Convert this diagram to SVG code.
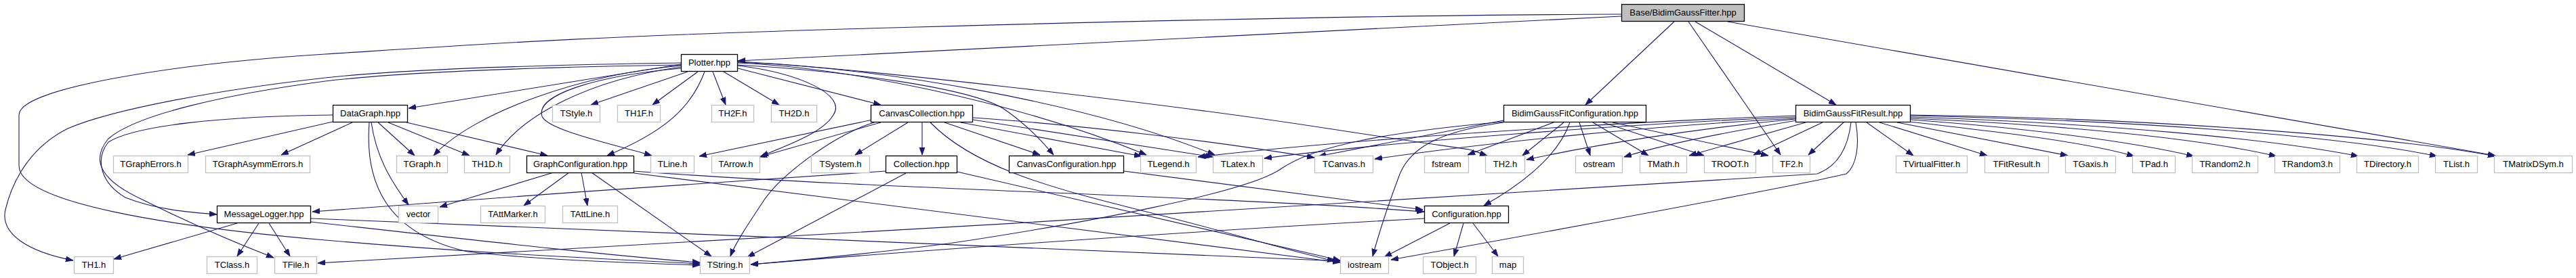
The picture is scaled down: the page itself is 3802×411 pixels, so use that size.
<svg xmlns="http://www.w3.org/2000/svg" width="3802" height="411" viewBox="0 0 3802 411">
<defs>
<style>
.e path{fill:none;stroke:#191970;stroke-width:1.1;marker-end:url(#ah)}
.n rect{fill:#fff;stroke:#000;stroke-width:1.3}
.x rect{fill:#fff;stroke:#bfbfbf;stroke-width:1.3}
.b rect{fill:#bfbfbf;stroke:#000;stroke-width:1.3}
text{font-family:"Liberation Sans",Arial,Helvetica,sans-serif;font-size:13px;text-anchor:middle;fill:#000}
</style>
<marker id="ah" markerUnits="userSpaceOnUse" markerWidth="12" markerHeight="9" refX="11" refY="4" orient="auto"><path d="M0,0 L11,4 L0,8 z" fill="#191970" stroke="#191970" stroke-width="0.8"/></marker>
</defs>
<rect width="3802" height="411" fill="#fff"/>
<g id="connectors" class="e">
<path d="M2393,24 L1089,90"/>
<path d="M2393,21 C2100,22 1700,30 1280,42 S700,66 480,80 S28,130 28,170 L28,245 C28,300 250,335 480,355 S900,383 1033,390"/>
<path d="M2471,32 L2340,155"/>
<path d="M2492,32 L2628,229"/>
<path d="M2502,32 L2710,155"/>
<path d="M2550,32 L3683,230"/>
<path d="M1015,106 L872,155"/>
<path d="M1030,106 L963,155"/>
<path d="M1052,106 L1071,155"/>
<path d="M1068,106 L1150,155"/>
<path d="M1040,106 C1020,160 980,195 896,230"/>
<path d="M1005,101 C880,112 790,140 800,172 C808,192 900,212 962,230"/>
<path d="M1005,99 C870,118 770,170 732,229"/>
<path d="M1005,97 C860,110 700,165 640,230"/>
<path d="M1005,95 L603,160"/>
<path d="M1005,93 C800,96 600,102 480,115 C330,132 170,160 100,190 C50,215 20,260 8,310 C0,345 40,372 108,385"/>
<path d="M1005,96 C750,100 580,108 480,120 C330,140 200,170 160,205 C135,235 145,265 210,295 C280,330 350,360 404,381"/>
<path d="M1089,101 L1300,155"/>
<path d="M1089,96 C1250,105 1430,130 1480,160 C1510,180 1535,205 1555,229"/>
<path d="M1089,93 C1250,100 1500,150 1692,229"/>
<path d="M1089,92 C1300,100 1600,150 1793,229"/>
<path d="M1089,91 C1250,99 1700,150 1960,190 S2150,215 2195,230"/>
<path d="M1089,97 C1180,108 1250,140 1230,170 C1215,195 1170,212 1123,231"/>
<path d="M491,170 C330,172 200,185 160,210 C140,235 148,270 185,292 C230,310 280,314 320,317"/>
<path d="M491,180 L277,229"/>
<path d="M520,181 L415,229"/>
<path d="M558,181 L612,230"/>
<path d="M573,181 L693,230"/>
<path d="M600,181 L808,230"/>
<path d="M548,181 C555,230 575,265 603,303"/>
<path d="M545,181 C538,270 570,345 690,372 C800,385 950,389 1033,392"/>
<path d="M350,330 L168,383"/>
<path d="M382,330 L350,379"/>
<path d="M397,330 L428,379"/>
<path d="M459,328 C700,355 900,378 1033,388"/>
<path d="M459,323 C900,340 1600,370 1978,386"/>
<path d="M817,255 L649,306"/>
<path d="M840,255 L773,304"/>
<path d="M858,255 L867,304"/>
<path d="M873,255 L1050,379"/>
<path d="M935,253 C1300,280 1800,290 2102,313"/>
<path d="M936,256 L1978,388"/>
<path d="M1307,253 C1100,265 700,295 461,313"/>
<path d="M1337,256 L1103,380"/>
<path d="M1413,254 L1978,385"/>
<path d="M1288,177 L1032,231"/>
<path d="M1300,181 L1121,232"/>
<path d="M1340,181 L1262,229"/>
<path d="M1290,181 C1230,200 1150,260 1125,300 C1105,330 1085,360 1078,379"/>
<path d="M1361,181 L1361,229"/>
<path d="M1394,181 L1535,229"/>
<path d="M1418,181 L1685,231"/>
<path d="M1436,177 L1790,232"/>
<path d="M1436,174 C1600,185 1800,210 1940,233"/>
<path d="M1373,181 C1440,250 1560,280 1700,315 C1820,345 1900,370 1970,386"/>
<path d="M1659,253 L2100,310"/>
<path d="M2219,178 L1946,231"/>
<path d="M2219,180 C2050,195 1940,215 1890,250 C1840,285 1600,330 1400,360 C1300,373 1200,383 1108,391"/>
<path d="M2293,181 L2166,229"/>
<path d="M2308,181 L2247,230"/>
<path d="M2317,181 C2300,230 2250,270 2190,304"/>
<path d="M2331,181 L2347,230"/>
<path d="M2351,181 L2433,230"/>
<path d="M2366,181 L2515,230"/>
<path d="M2380,181 L2610,230"/>
<path d="M2219,181 C2120,195 2080,220 2065,260 C2050,300 2035,345 2026,379"/>
<path d="M2140,330 L2043,380"/>
<path d="M2160,330 L2146,379"/>
<path d="M2174,330 L2211,379"/>
<path d="M2102,323 C1700,345 1300,375 1108,391"/>
<path d="M2650,171 C2400,180 2000,205 1768,232"/>
<path d="M2650,173 C2400,183 2050,210 1866,234"/>
<path d="M2650,175 C2450,185 2200,210 2029,235"/>
<path d="M2650,176 C2500,190 2350,215 2253,236"/>
<path d="M2652,178 C2550,195 2450,215 2397,232"/>
<path d="M2665,181 L2493,230"/>
<path d="M2690,181 L2588,229"/>
<path d="M2721,181 L2669,229"/>
<path d="M2755,181 L2824,230"/>
<path d="M2774,181 L2933,230"/>
<path d="M2800,181 L3052,230"/>
<path d="M2818,180 C2950,195 3080,210 3150,231"/>
<path d="M2820,177 C3000,190 3150,210 3238,231"/>
<path d="M2820,175 C3050,185 3250,205 3360,231"/>
<path d="M2820,173 C3100,182 3350,205 3481,231"/>
<path d="M2820,171 C3150,178 3450,200 3597,231"/>
<path d="M2820,170 C3200,175 3550,205 3683,231"/>
<path d="M2739,181 C2745,215 2740,245 2725,257 C2650,275 2300,340 2053,384"/>
<path d="M2732,181 C2728,215 2715,245 2682,257 C2500,272 1000,360 469,389"/>
</g>
<g id="node-base" class="b"><rect x="2393.5" y="6.5" width="181" height="25"/><text x="2484" y="23">Base/BidimGaussFitter.hpp</text></g>
<g id="node-plotter" class="n"><rect x="1005.5" y="80.5" width="83" height="25"/><text x="1047" y="97">Plotter.hpp</text></g>
<g id="node-datagraph" class="n"><rect x="491.5" y="155.5" width="110" height="25"/><text x="546.5" y="172">DataGraph.hpp</text></g>
<g id="node-tstyle" class="x"><rect x="815.5" y="155.5" width="70" height="25"/><text x="850.5" y="172">TStyle.h</text></g>
<g id="node-th1f" class="x"><rect x="911.5" y="155.5" width="63" height="25"/><text x="943" y="172">TH1F.h</text></g>
<g id="node-th2f" class="x"><rect x="1050.5" y="155.5" width="62" height="25"/><text x="1081.5" y="172">TH2F.h</text></g>
<g id="node-th2d" class="x"><rect x="1138.5" y="155.5" width="67" height="25"/><text x="1172" y="172">TH2D.h</text></g>
<g id="node-canvascollection" class="n"><rect x="1285.5" y="155.5" width="150" height="25"/><text x="1360.5" y="172">CanvasCollection.hpp</text></g>
<g id="node-bgfconfig" class="n"><rect x="2219.5" y="155.5" width="210" height="25"/><text x="2324.5" y="172">BidimGaussFitConfiguration.hpp</text></g>
<g id="node-bgfresult" class="n"><rect x="2650.5" y="155.5" width="169" height="25"/><text x="2735" y="172">BidimGaussFitResult.hpp</text></g>
<g id="node-tgrapherrors" class="x"><rect x="167.5" y="230.5" width="110" height="25"/><text x="222.5" y="247">TGraphErrors.h</text></g>
<g id="node-tgraphasymmerrors" class="x"><rect x="303.5" y="230.5" width="154" height="25"/><text x="380.5" y="247">TGraphAsymmErrors.h</text></g>
<g id="node-tgraph" class="x"><rect x="585.5" y="230.5" width="75" height="25"/><text x="623" y="247">TGraph.h</text></g>
<g id="node-th1d" class="x"><rect x="685.5" y="230.5" width="67" height="25"/><text x="719" y="247">TH1D.h</text></g>
<g id="node-graphconfiguration" class="n"><rect x="777.5" y="230.5" width="158" height="25"/><text x="856.5" y="247">GraphConfiguration.hpp</text></g>
<g id="node-tline" class="x"><rect x="960.5" y="230.5" width="64" height="25"/><text x="992.5" y="247">TLine.h</text></g>
<g id="node-tarrow" class="x"><rect x="1050.5" y="230.5" width="71" height="25"/><text x="1086" y="247">TArrow.h</text></g>
<g id="node-tsystem" class="x"><rect x="1197.5" y="230.5" width="86" height="25"/><text x="1240.5" y="247">TSystem.h</text></g>
<g id="node-collection" class="n"><rect x="1307.5" y="230.5" width="105" height="25"/><text x="1360" y="247">Collection.hpp</text></g>
<g id="node-canvasconfiguration" class="n"><rect x="1489.5" y="230.5" width="169" height="25"/><text x="1574" y="247">CanvasConfiguration.hpp</text></g>
<g id="node-tlegend" class="x"><rect x="1683.5" y="230.5" width="82" height="25"/><text x="1724.5" y="247">TLegend.h</text></g>
<g id="node-tlatex" class="x"><rect x="1790.5" y="230.5" width="73" height="25"/><text x="1827" y="247">TLatex.h</text></g>
<g id="node-tcanvas" class="x"><rect x="1940.5" y="230.5" width="86" height="25"/><text x="1983.5" y="247">TCanvas.h</text></g>
<g id="node-fstream" class="x"><rect x="2102.5" y="230.5" width="65" height="25"/><text x="2135" y="247">fstream</text></g>
<g id="node-th2" class="x"><rect x="2192.5" y="230.5" width="58" height="25"/><text x="2221.5" y="247">TH2.h</text></g>
<g id="node-ostream" class="x"><rect x="2325.5" y="230.5" width="69" height="25"/><text x="2360" y="247">ostream</text></g>
<g id="node-tmath" class="x"><rect x="2420.5" y="230.5" width="69" height="25"/><text x="2455" y="247">TMath.h</text></g>
<g id="node-troot" class="x"><rect x="2515.5" y="230.5" width="76" height="25"/><text x="2553.5" y="247">TROOT.h</text></g>
<g id="node-tf2" class="x"><rect x="2616.5" y="230.5" width="55" height="25"/><text x="2644" y="247">TF2.h</text></g>
<g id="node-tvirtualfitter" class="x"><rect x="2798.5" y="230.5" width="105" height="25"/><text x="2851" y="247">TVirtualFitter.h</text></g>
<g id="node-tfitresult" class="x"><rect x="2929.5" y="230.5" width="94" height="25"/><text x="2976.5" y="247">TFitResult.h</text></g>
<g id="node-tgaxis" class="x"><rect x="3048.5" y="230.5" width="74" height="25"/><text x="3085.5" y="247">TGaxis.h</text></g>
<g id="node-tpad" class="x"><rect x="3147.5" y="230.5" width="63" height="25"/><text x="3179" y="247">TPad.h</text></g>
<g id="node-trandom2" class="x"><rect x="3235.5" y="230.5" width="97" height="25"/><text x="3284" y="247">TRandom2.h</text></g>
<g id="node-trandom3" class="x"><rect x="3357.5" y="230.5" width="96" height="25"/><text x="3405.5" y="247">TRandom3.h</text></g>
<g id="node-tdirectory" class="x"><rect x="3478.5" y="230.5" width="91" height="25"/><text x="3524" y="247">TDirectory.h</text></g>
<g id="node-tlist" class="x"><rect x="3594.5" y="230.5" width="62" height="25"/><text x="3625.5" y="247">TList.h</text></g>
<g id="node-tmatrixdsym" class="x"><rect x="3681.5" y="230.5" width="115" height="25"/><text x="3739" y="247">TMatrixDSym.h</text></g>
<g id="node-messagelogger" class="n"><rect x="320.5" y="304.5" width="138" height="25"/><text x="389.5" y="321">MessageLogger.hpp</text></g>
<g id="node-vector" class="x"><rect x="588.5" y="304.5" width="58" height="25"/><text x="617.5" y="321">vector</text></g>
<g id="node-tattmarker" class="x"><rect x="709.5" y="304.5" width="95" height="25"/><text x="757" y="321">TAttMarker.h</text></g>
<g id="node-tattline" class="x"><rect x="830.5" y="304.5" width="81" height="25"/><text x="871" y="321">TAttLine.h</text></g>
<g id="node-configuration" class="n"><rect x="2102.5" y="304.5" width="124" height="25"/><text x="2164.5" y="321">Configuration.hpp</text></g>
<g id="node-th1" class="x"><rect x="109.5" y="379.5" width="58" height="25"/><text x="138.5" y="396">TH1.h</text></g>
<g id="node-tclass" class="x"><rect x="305.5" y="379.5" width="74" height="25"/><text x="342.5" y="396">TClass.h</text></g>
<g id="node-tfile" class="x"><rect x="405.5" y="379.5" width="62" height="25"/><text x="436.5" y="396">TFile.h</text></g>
<g id="node-tstring" class="x"><rect x="1033.5" y="379.5" width="73" height="25"/><text x="1070" y="396">TString.h</text></g>
<g id="node-iostream" class="x"><rect x="1978.5" y="379.5" width="71" height="25"/><text x="2014" y="396">iostream</text></g>
<g id="node-tobject" class="x"><rect x="2100.5" y="379.5" width="78" height="25"/><text x="2139.5" y="396">TObject.h</text></g>
<g id="node-map" class="x"><rect x="2202.5" y="379.5" width="46" height="25"/><text x="2225.5" y="396">map</text></g>
</svg>
